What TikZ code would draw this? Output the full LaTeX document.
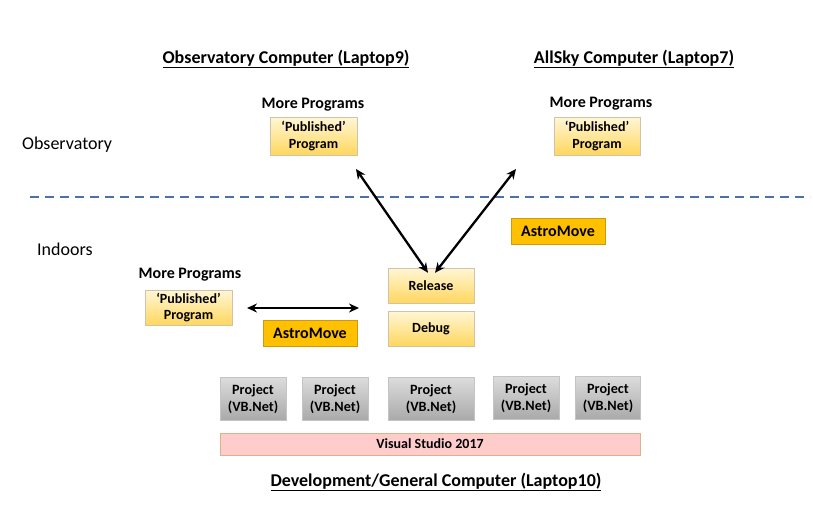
\documentclass[tikz,border=0pt]{standalone}
\usepackage{fontspec}
\setmainfont{Carlito}
\usetikzlibrary{arrows.meta}
\definecolor{dashblue}{HTML}{4A72A8}
\definecolor{gold}{HTML}{FFC000}
\definecolor{goldborder}{HTML}{C99A12}
\definecolor{ytop}{HTML}{FFF6D6}
\definecolor{ybot}{HTML}{FFD75E}
\definecolor{yborder}{HTML}{CFC3A8}
\definecolor{gtop}{HTML}{DCDCDC}
\definecolor{gbot}{HTML}{A9A9A9}
\definecolor{gborder}{HTML}{C4C4C4}
\definecolor{pinkfill}{HTML}{FFCCCC}
\definecolor{pinkborder}{HTML}{D9B38C}
\begin{document}
\begin{tikzpicture}[x=1pt,y=-1pt,
  title/.style={font=\bfseries\fontsize{18}{20}\selectfont},
  lbl/.style={font=\fontsize{18}{20}\selectfont},
  sub/.style={font=\bfseries\fontsize{16}{18}\selectfont},
  pubbox/.style={draw=yborder,top color=ytop,bottom color=ybot,align=center,
    font=\bfseries\fontsize{14}{16.5}\selectfont,inner sep=0pt},
  astro/.style={draw=goldborder,fill=gold,font=\bfseries\fontsize{16}{18}\selectfont,inner sep=0pt},
  projbox/.style={draw=gborder,top color=gtop,bottom color=gbot,align=center,
    font=\bfseries\fontsize{14.2}{17}\selectfont,inner sep=0pt},
  dbl/.style={{Stealth[length=10pt,width=9pt]}-{Stealth[length=10pt,width=9pt]},line width=2.3pt,black}
]
\useasboundingbox (0,0) rectangle (813,506);

% titles
\node[title] (t9) at (286,59) {\underline{Observatory Computer (Laptop9)}};
\node[title] (t7) at (634,59) {\underline{AllSky Computer (Laptop7)}};
\node[title] (t10) at (436,482) {\underline{Development/General Computer (Laptop10)}};

% zone labels
\node[lbl,anchor=west,inner sep=0pt] (obs) at (22,145) {Observatory};
\node[lbl,anchor=west,inner sep=0pt] (ind) at (37,249) {Indoors};

% dashed divider
\coordinate (dl) at (30,197);
\coordinate (dr) at (810,197);
\draw[dashblue,line width=1.6pt,dash pattern=on 9pt off 6pt] (dl) -- (dr);

% observatory programs
\node[sub] (mp1) at (313,105) {More Programs};
\node[pubbox,minimum width=87pt,minimum height=38pt] (pub1) at (313.5,136) {‘Published’\\Program};
\node[sub] (mp2) at (601,104) {More Programs};
\node[pubbox,minimum width=86pt,minimum height=38pt] (pub2) at (597,136) {‘Published’\\Program};

% indoor
\node[sub] (mp3) at (190,275) {More Programs};
\node[pubbox,minimum width=87pt,minimum height=35pt] (pub3) at (188.5,307.5) {‘Published’\\Program};

\node[pubbox,minimum width=86pt,minimum height=35pt] (rel) at (431,285.5) {Release};
\node[pubbox,minimum width=86pt,minimum height=35pt] (dbg) at (431,328.5) {Debug};

\node[astro,minimum width=94pt,minimum height=26pt] (am1) at (558,231) {AstroMove};
\node[astro,minimum width=94pt,minimum height=26pt] (am2) at (310,333) {AstroMove};

% arrows
\coordinate (a1) at (356,169);
\coordinate (a2) at (516,169);
\coordinate (h1) at (247,308);
\coordinate (h2) at (359,308);
\draw[dbl] (a1) -- ([xshift=-3pt,yshift=-5pt]rel.north);
\draw[dbl] (a2) -- ([xshift=4pt,yshift=-5pt]rel.north);
\draw[dbl] (h1) -- (h2);

% projects
\node[projbox,minimum width=66pt,minimum height=43pt] (p1) at (253,399) {Project\\(VB.Net)};
\node[projbox,minimum width=66pt,minimum height=43pt] (p2) at (335,399) {Project\\(VB.Net)};
\node[projbox,minimum width=86pt,minimum height=43pt] (p3) at (431,399) {Project\\(VB.Net)};
\node[projbox,minimum width=66pt,minimum height=43pt] (p4) at (526,398) {Project\\(VB.Net)};
\node[projbox,minimum width=65pt,minimum height=43pt] (p5) at (608,398) {Project\\(VB.Net)};

\node[draw=pinkborder,fill=pinkfill,minimum width=420pt,minimum height=22pt,inner sep=0pt,
  font=\bfseries\fontsize{14}{16}\selectfont] (vs) at (430,444) {Visual Studio 2017};
\end{tikzpicture}
\end{document}
